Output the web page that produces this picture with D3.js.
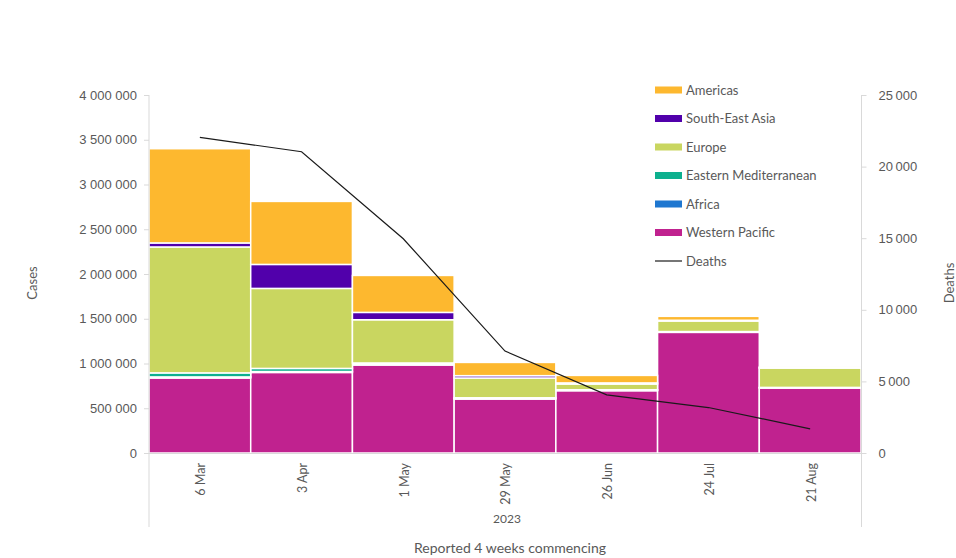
<!DOCTYPE html>
<html>
<head>
<meta charset="utf-8">
<script src="https://cdn.jsdelivr.net/npm/d3@7"></script>
<style>
  html, body { margin: 0; padding: 0; background: #fff; }
  svg { display: block; font-family: Lato, "Open Sans", sans-serif; }
</style>
</head>
<body>
<svg id="chart" width="956" height="558"></svg>
<script>
// Reporting periods (4 weeks commencing), 2023
const periods = ["6 Mar", "3 Apr", "1 May", "29 May", "26 Jun", "24 Jul", "21 Aug"];

// Cases by WHO region, stacked bottom to top
const westernPacific = [838000, 900000, 983000, 603000, 696000, 1348000, 726000];
const africa         = [12000, 10000, 8000, 6000, 5000, 4000, 3000];
const easternMed     = [45000, 35000, 15000, 8000, 6000, 5000, 4000];
const europe         = [1407000, 894000, 483000, 221000, 64000, 118000, 217000];
const southEastAsia  = [45000, 268000, 82000, 26000, 12000, 8000, 2000];
const americas       = [1053000, 704000, 413000, 148000, 84000, 44000, 10000];

// Deaths (right axis)
const deaths = [22040, 21040, 14960, 7120, 4060, 3175, 1690];

const casesTicks  = [0, 500000, 1000000, 1500000, 2000000, 2500000, 3000000, 3500000, 4000000];
const deathsTicks = [0, 5000, 10000, 15000, 20000, 25000];

const regions = [
  { key: "Western Pacific",        values: westernPacific, color: "#C0228F" },
  { key: "Africa",                 values: africa,         color: "#1F77D0" },
  { key: "Eastern Mediterranean",  values: easternMed,     color: "#0DB08E" },
  { key: "Europe",                 values: europe,         color: "#C9D660" },
  { key: "South-East Asia",        values: southEastAsia,  color: "#5100AB" },
  { key: "Americas",               values: americas,       color: "#FDB82F" }
];

const svg = d3.select("#chart");
const plotLeft = 149, plotRight = 861, plotTop = 95, plotBottom = 453, axisFoot = 527;
const textColor = "#595959", lineColor = "#D9D9D9";

const x = d3.scaleBand().domain(periods).range([plotLeft, plotRight]).paddingInner(0).paddingOuter(0);
const yCases = d3.scaleLinear().domain([0, 4000000]).range([plotBottom, plotTop]);
const yDeaths = d3.scaleLinear().domain([0, 25000]).range([plotBottom, plotTop]);

// Stack the regional series
const table = periods.map((p, i) => {
  const row = { period: p };
  regions.forEach(r => row[r.key] = r.values[i]);
  return row;
});
const stacked = d3.stack().keys(regions.map(r => r.key))(table);
const colorOf = d3.scaleOrdinal().domain(regions.map(r => r.key)).range(regions.map(r => r.color));

svg.append("g")
  .selectAll("g")
  .data(stacked)
  .join("g")
    .attr("fill", d => colorOf(d.key))
  .selectAll("rect")
  .data(d => d)
  .join("rect")
    .attr("x", d => x(d.data.period))
    .attr("width", x.bandwidth())
    .attr("y", d => yCases(d[1]))
    .attr("height", d => Math.max(0, yCases(d[0]) - yCases(d[1])))
    .attr("stroke", "#fff")
    .attr("stroke-width", 1.5);

// Axes
const spaceFmt = v => d3.format(",")(v).replace(/,/g, " ");

const gLeft = svg.append("g")
  .attr("transform", `translate(${plotLeft},0)`)
  .call(d3.axisLeft(yCases).tickValues(casesTicks).tickFormat(spaceFmt).tickSizeOuter(0).tickSizeInner(5).tickPadding(7));

const gRight = svg.append("g")
  .attr("transform", `translate(${plotRight + 0.5},0)`)
  .call(d3.axisRight(yDeaths).tickValues(deathsTicks).tickFormat(v => spaceFmt(v).replace(" ", "\u2009")).tickSizeOuter(0).tickSizeInner(5).tickPadding(12));

[gLeft, gRight].forEach(g => {
  g.select(".domain").remove();
  g.selectAll(".tick line").attr("stroke", lineColor);
  g.selectAll(".tick text").attr("fill", textColor).style("font-size", "13px");
});

// Axis frame lines
const frame = svg.append("g").attr("stroke", lineColor).attr("stroke-width", 1);
frame.append("line").attr("x1", plotLeft).attr("x2", plotLeft).attr("y1", plotTop).attr("y2", axisFoot);
frame.append("line").attr("x1", plotRight + 0.5).attr("x2", plotRight + 0.5).attr("y1", plotTop).attr("y2", axisFoot);
frame.append("line").attr("x1", plotLeft).attr("x2", plotRight).attr("y1", plotBottom + 0.5).attr("y2", plotBottom + 0.5);

// Category labels
svg.append("g")
  .selectAll("text")
  .data(periods)
  .join("text")
    .attr("transform", d => `translate(${x(d) + x.bandwidth() / 2 + 1},${plotBottom + 10}) rotate(-90)`)
    .attr("text-anchor", "end")
    .attr("dy", "0.35em")
    .attr("fill", textColor)
    .style("font-size", "12.5px")
    .text(d => d);

svg.append("text")
  .attr("x", (plotLeft + plotRight) / 2 + 2).attr("y", 523)
  .attr("text-anchor", "middle").attr("fill", textColor).style("font-size", "12px")
  .text("2023");

svg.append("text")
  .attr("x", 510).attr("y", 553)
  .attr("text-anchor", "middle").attr("fill", textColor).style("font-size", "14px")
  .text("Reported 4 weeks commencing");

svg.append("text")
  .attr("transform", "translate(37,283) rotate(-90)")
  .attr("text-anchor", "middle").attr("fill", textColor).style("font-size", "13px")
  .text("Cases");

svg.append("text")
  .attr("transform", "translate(954,283) rotate(-90)")
  .attr("text-anchor", "middle").attr("fill", textColor).style("font-size", "13px")
  .text("Deaths");

// Deaths line
const line = d3.line()
  .x((d, i) => x(periods[i]) + x.bandwidth() / 2)
  .y(d => yDeaths(d));

svg.append("path")
  .datum(deaths)
  .attr("fill", "none")
  .attr("stroke", "#1a1a1a")
  .attr("stroke-width", 1.2)
  .attr("d", line);

// Legend
const legendItems = regions.slice().reverse().map(r => ({ key: r.key, color: r.color, type: "bar" }))
  .concat([{ key: "Deaths", color: "#1a1a1a", type: "line" }]);

const legend = svg.append("g")
  .selectAll("g")
  .data(legendItems)
  .join("g")
    .attr("transform", (d, i) => `translate(655,${90 + i * 28.5})`);

legend.filter(d => d.type === "bar").append("rect")
  .attr("x", 0).attr("y", -3.5).attr("width", 27).attr("height", 7)
  .attr("fill", d => d.color);

legend.filter(d => d.type === "line").append("line")
  .attr("x1", 0).attr("x2", 27).attr("y1", 0).attr("y2", 0)
  .attr("stroke", d => d.color).attr("stroke-width", 1.2);

legend.append("text")
  .attr("x", 31).attr("dy", "0.35em")
  .attr("fill", textColor).style("font-size", "13px")
  .text(d => d.key);
</script>
</body>
</html>
